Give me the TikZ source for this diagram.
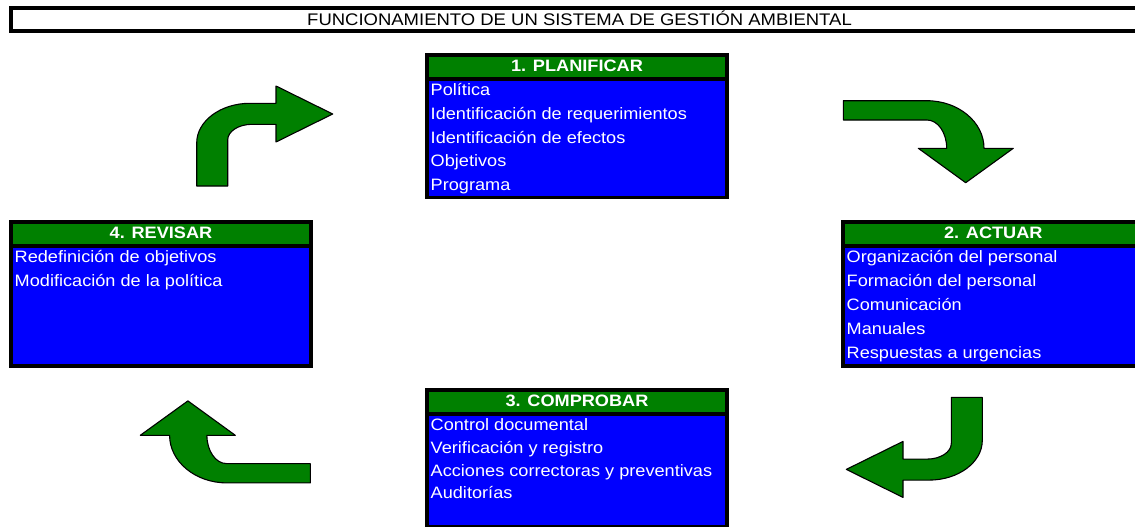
\documentclass[tikz,border=0pt]{standalone}
\usepackage{fontspec}
\setmainfont{Liberation Sans}[FakeStretch=1.1]
\definecolor{hdrgreen}{RGB}{0,128,0}
\definecolor{bodyblue}{RGB}{0,0,255}
\begin{document}
\begin{tikzpicture}[x=1pt,y=-1pt,
  hdr/.style={font=\fontsize{16.5}{20}\selectfont\bfseries, text=white, anchor=base, inner sep=0pt},
  itm/.style={font=\fontsize{16.5}{20}\selectfont, text=white, anchor=base west, inner sep=0pt},
  ttl/.style={font=\fontsize{16.8}{20}\selectfont, text=black, anchor=base, inner sep=0pt},
  frame/.style={fill=black},
  hbar/.style={fill=hdrgreen},
  bbar/.style={fill=bodyblue},
  bendarrow/.style={fill=hdrgreen, draw=black, line width=1.1pt, line join=round}]
\clip (0,0) rectangle (1135,527);
\fill[white] (0,0) rectangle (1135,527);

% title
\draw[line width=4pt] (11,8) rectangle (1150,31.3);
\node[ttl] (title) at (579.5,25.3) {FUNCIONAMIENTO DE UN SISTEMA DE GESTIÓN AMBIENTAL};

% 1. PLANIFICAR
\fill[frame] (425,53) rectangle (729,199);
\fill[hbar] (429,57) rectangle (725,77);
\fill[bbar] (429,81) rectangle (725,196);
\node[hdr] (plan) at (577,71.8) {1. PLANIFICAR};
\node[itm] (plan1) at (430.5,95.7) {Política};
\node[itm] (plan2) at (430.5,119.4) {Identificación de requerimientos};
\node[itm] (plan3) at (430.5,143.1) {Identificación de efectos};
\node[itm] (plan4) at (430.5,166.7) {Objetivos};
\node[itm] (plan5) at (430.5,190.3) {Programa};

% 2. ACTUAR
\fill[frame] (841,220) rectangle (1150,368);
\fill[hbar] (845,224) rectangle (1142,244);
\fill[bbar] (845,248) rectangle (1142,364);
\node[hdr] (act) at (993.3,238.8) {2. ACTUAR};
\node[itm] (act1) at (846.5,262) {Organización del personal};
\node[itm] (act2) at (846.5,286) {Formación del personal};
\node[itm] (act3) at (846.5,310) {Comunicación};
\node[itm] (act4) at (846.5,334) {Manuales};
\node[itm] (act5) at (846.5,358) {Respuestas a urgencias};

% 3. COMPROBAR
\fill[frame] (425,388) rectangle (729,530);
\fill[hbar] (429,392) rectangle (725,412);
\fill[bbar] (429,416) rectangle (725,525);
\node[hdr] (comp) at (577,406.7) {3. COMPROBAR};
\node[itm] (comp1) at (430.5,430.7) {Control documental};
\node[itm] (comp2) at (430.5,453.3) {Verificación y registro};
\node[itm] (comp3) at (430.5,476) {Acciones correctoras y preventivas};
\node[itm] (comp4) at (430.5,498.6) {Auditorías};

% 4. REVISAR
\fill[frame] (9,220) rectangle (313,368);
\fill[hbar] (13,224) rectangle (309,244);
\fill[bbar] (13,248) rectangle (309,364);
\node[hdr] (rev) at (161,238.8) {4. REVISAR};
\node[itm] (rev1) at (14.5,262) {Redefinición de objetivos};
\node[itm] (rev2) at (14.5,286) {Modificación de la política};

% bent arrows: top-left and (rotated) bottom-right
\foreach \ang/\cx/\cy in {0/589.5/291.7, 180/589.5/291.7}{
\draw[bendarrow, rotate around={\ang:(\cx,\cy)}]
  (196.7,186) -- (196.7,143)
  .. controls (196.7,121.1) and (220.6,103.3) .. (250,103.3)
  -- (276,103.3) -- (276,86) -- (332.7,114) -- (276,142) -- (276,124.3)
  -- (252,124.3)
  .. controls (238.6,124.3) and (227.7,131.3) .. (227.7,140)
  -- (227.7,186) -- cycle;
}
% bent arrows: top-right and (rotated) bottom-left
\foreach \ang/\cx/\cy in {0/576.8/291.8, 180/576.8/291.8}{
\draw[bendarrow, rotate around={\ang:(\cx,\cy)}]
  (843.3,100.7) -- (926.7,100.7)
  .. controls (958.3,100.7) and (984,122) .. (984,148.3)
  -- (1013.3,148.3) -- (965.7,182.7) -- (918.3,148.3) -- (946.7,148.3)
  .. controls (946.7,132.7) and (937.9,120) .. (927,120)
  -- (843.3,120) -- cycle;
}
\end{tikzpicture}
\end{document}
